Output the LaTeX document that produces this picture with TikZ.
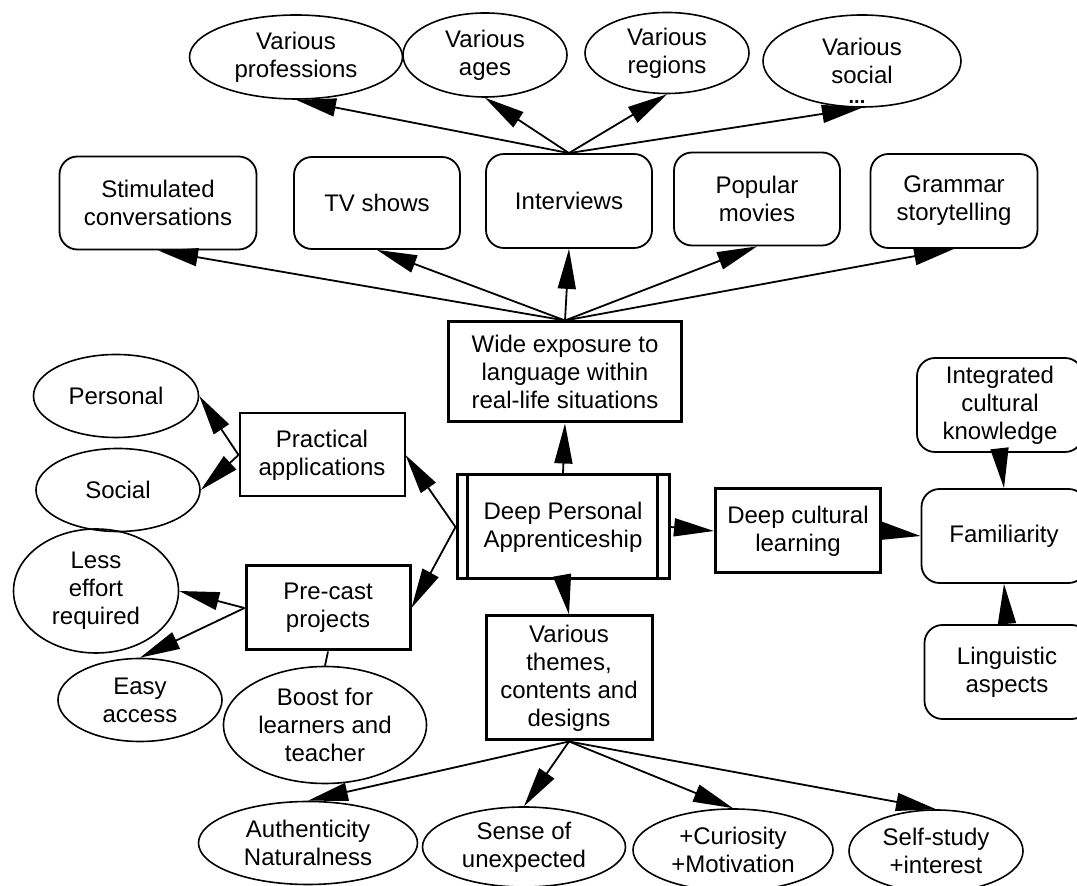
\documentclass[tikz,border=0pt]{standalone}
\usepackage{fontspec}
\setmainfont{Liberation Sans}
\usetikzlibrary{shapes.geometric,arrows.meta}
\tikzset{
  oval/.style={ellipse, draw, line width=0.8pt, inner sep=0pt, align=center},
  rbox/.style={rectangle, rounded corners=9pt, draw, line width=0.9pt, inner sep=0pt, align=center},
  sbox/.style={rectangle, draw, line width=1pt, inner sep=0pt, align=center},
  tbox/.style={sbox, line width=1.5pt},
  arr/.style={-{Triangle[length=20pt,width=9pt]}, line width=0.9pt},
}
\begin{document}
\begin{tikzpicture}[x=0.5pt, y=-0.5pt, font=\fontsize{12}{14}\selectfont]
  \useasboundingbox (0,0) rectangle (1077,886);

  % Top ellipses
  \node[oval, minimum width=106.5pt, minimum height=42pt] (prof) at (296,57) {Various\\professions};
  \node[oval, minimum width=82pt, minimum height=42pt] (ages) at (485,55) {Various\\ages};
  \node[oval, minimum width=82pt, minimum height=40.5pt] (reg) at (667,53) {Various\\regions};
  \node[oval, minimum width=99pt, minimum height=46pt] (vsoc) at (862,61) {Various\\social};
  \node[font=\bfseries, inner sep=0pt] (vsocdots) at (857,102) {...};

  % Media boxes
  \node[rbox, minimum width=98.5pt, minimum height=46.5pt] (stim) at (158,203) {Stimulated\\conversations};
  \node[rbox, minimum width=83pt, minimum height=46pt] (tv) at (377,203) {TV shows};
  \node[rbox, minimum width=83pt, minimum height=47pt] (intv) at (569,201) {Interviews};
  \node[rbox, minimum width=83pt, minimum height=46.5pt] (movies) at (757,199) {Popular\\movies};
  \node[rbox, minimum width=83.5pt, minimum height=47pt] (gram) at (954,201) {Grammar\\storytelling};

  % Centre column
  \node[tbox, minimum width=116.5pt, minimum height=50pt] (wide) at (565,372) {Wide exposure to\\language within\\real-life situations};
  \node[tbox, minimum width=106pt, minimum height=52pt] (dpa) at (563,527) {Deep Personal\\Apprenticeship};
  \draw[line width=1.2pt] ([xshift=6pt]dpa.north west) -- ([xshift=6pt]dpa.south west);
  \draw[line width=1.2pt] ([xshift=-6.5pt]dpa.north east) -- ([xshift=-6.5pt]dpa.south east);
  \node[tbox, minimum width=83pt, minimum height=62pt] (themes) at (569,678) {Various\\themes,\\contents and\\designs};

  % Right column
  \node[tbox, minimum width=82.5pt, minimum height=42pt] (dcl) at (798,531) {Deep cultural\\learning};
  \node[rbox, minimum width=83pt, minimum height=47pt] (integ) at (1000,405) {Integrated\\cultural\\knowledge};
  \node[rbox, minimum width=82.5pt, minimum height=47pt] (fam) at (1004,536) {Familiarity};
  \node[rbox, minimum width=82.5pt, minimum height=47pt] (ling) at (1007,672) {Linguistic\\aspects};

  % Left side
  \node[oval, minimum width=82.5pt, minimum height=41.5pt] (pers) at (116,396) {Personal};
  \node[oval, minimum width=82pt, minimum height=41.5pt] (socl) at (118,490) {Social};
  \node[sbox, minimum width=82.5pt, minimum height=41.5pt] (prac) at (322,455) {Practical\\applications};
  \node[oval, minimum width=82.5pt, minimum height=62pt] (less) at (96,591) {Less\\effort\\required};
  \node[tbox, minimum width=82pt, minimum height=42pt] (pre) at (328,608) {Pre-cast\\projects};
  \node[oval, minimum width=82pt, minimum height=41.5pt] (easy) at (140,700) {Easy\\access};
  \node[oval, minimum width=101.5pt, minimum height=58.5pt] (boost) at (325,725) {Boost for\\learners and\\teacher};

  % Bottom ellipses
  \node[oval, minimum width=109.5pt, minimum height=41.5pt] (auth) at (308,843) {Authenticity\\Naturalness};
  \node[oval, minimum width=101.5pt, minimum height=40pt] (sense) at (524,847) {Sense of\\unexpected};
  \node[oval, minimum width=100pt, minimum height=41pt] (cur) at (733,850) {+Curiosity\\+Motivation};
  \node[oval, minimum width=87pt, minimum height=41pt] (self) at (936,851) {Self-study\\+interest};

  % Connectors
  \foreach \t in {prof,ages,reg,vsoc}
    \draw[arr] (intv.north) -- (\t.south);
  \foreach \t in {stim,tv,intv,movies,gram}
    \draw[arr] (wide.north) -- (\t.south);
  \draw[arr] (dpa.north) -- (wide.south);
  \draw[arr] (dpa.south) -- (themes.north);
  \draw[arr] (dpa.east) -- (dcl.west);
  \draw[arr] (dcl.east) -- (fam.west);
  \draw[arr] (integ.south) -- (fam.north);
  \draw[arr] (ling.north) -- (fam.south);
  \draw[arr] (dpa.west) -- (prac.east);
  \draw[arr] (dpa.west) -- (pre.east);
  \draw[arr] (prac.west) -- (pers.east);
  \draw[arr] (prac.west) -- (socl.east);
  \draw[arr] (pre.west) -- (less.east);
  \draw[arr] (pre.west) -- (easy.north);
  \draw[line width=0.9pt] (pre.south) -- (boost.north);
  \foreach \t in {auth,sense,cur,self}
    \draw[arr] (themes.south) -- (\t.north);
\end{tikzpicture}
\end{document}
